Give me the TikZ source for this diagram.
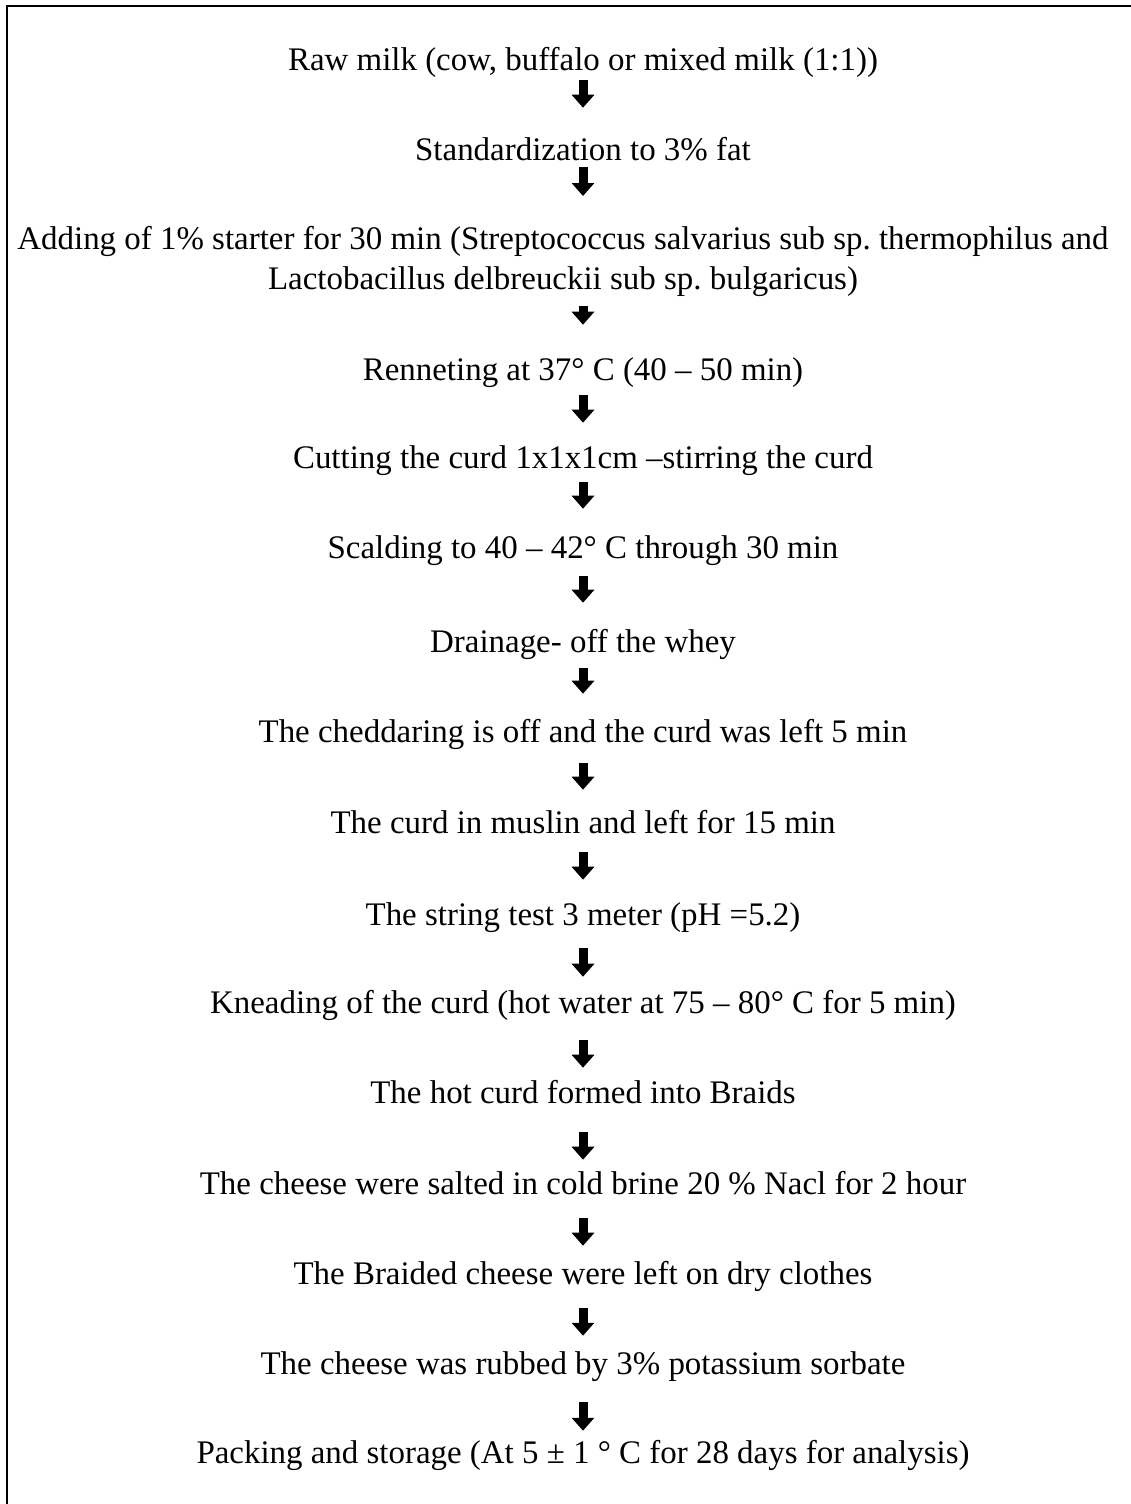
\documentclass[tikz,border=0pt]{standalone}
\usepackage{fontspec}
\setmainfont{Liberation Serif}
\usepackage{xcolor}
\usetikzlibrary{arrows.meta}
\frenchspacing

\tikzset{
  stepnode/.style={anchor=base,inner sep=0pt,text height=16.5pt,text depth=5.25pt,font=\fontsize{24.7}{30}\selectfont},
  flowarrow/.style 2 args={line width=6.75pt,-{Triangle[width=16.5pt,length=9.75pt]},xshift=-2.25pt,shorten <={#1*0.75pt},shorten >={#2*0.75pt}}
}

\begin{document}
\begin{tikzpicture}[x=0.75pt,y=0.75pt,yscale=-1,xscale=1]
\useasboundingbox (0,0) rectangle (1131,1504);
%Frame (only top and left edges in view)
\draw [line width=1.5]  (6.5,6) rectangle (1145,1520) ;
% Text Node
\node [stepnode] (rawmilk) at (583,70) {Raw milk (cow, buffalo or mixed milk (1:1))};
% Text Node
\node [stepnode] (standard) at (583,160) {Standardization to 3\% fat};
% Text Node
\node [anchor=north,inner sep=0pt,align=center,font=\fontsize{24.7}{30}\selectfont] (starter) at (563,226) {Adding of 1\% starter for 30 min (Streptococcus salvarius sub sp. thermophilus and\\Lactobacillus delbreuckii sub sp. bulgaricus)};
% Text Node
\node [stepnode] (renneting) at (583,380) {Renneting at 37° C (40 – 50 min)};
% Text Node
\node [stepnode] (cutting) at (583,468) {Cutting the curd 1x1x1cm –stirring the curd};
% Text Node
\node [stepnode] (scalding) at (583,558) {Scalding to 40 – 42° C through 30 min};
% Text Node
\node [stepnode] (drainage) at (583,652) {Drainage- off the whey};
% Text Node
\node [stepnode] (cheddaring) at (583,742) {The cheddaring is off and the curd was left 5 min};
% Text Node
\node [stepnode] (muslin) at (583,833) {The curd in muslin and left for 15 min};
% Text Node
\node [stepnode] (stringtest) at (583,925) {The string test 3 meter (pH =5.2)};
% Text Node
\node [stepnode] (kneading) at (583,1013) {Kneading of the curd (hot water at 75 – 80° C for 5 min)};
% Text Node
\node [stepnode] (braids) at (583,1103) {The hot curd formed into Braids};
% Text Node
\node [stepnode] (salting) at (583,1194) {The cheese were salted in cold brine 20 \% Nacl for 2 hour};
% Text Node
\node [stepnode] (drying) at (583,1284) {The Braided cheese were left on dry clothes};
% Text Node
\node [stepnode] (sorbate) at (583,1374) {The cheese was rubbed by 3\% potassium sorbate};
% Text Node
\node [stepnode] (packing) at (583,1463) {Packing and storage (At 5 ± 1 ° C for 28 days for analysis)};
%Arrows
\draw [flowarrow={3}{30}]  (rawmilk.south) -- (standard.north) ;
\draw [flowarrow={0}{30}]  (standard.south) -- (starter.north -| standard.south) ;
\draw [flowarrow={9}{33}]  (starter.south -| renneting.north) -- (renneting.north) ;
\draw [flowarrow={8}{23}]  (renneting.south) -- (cutting.north) ;
\draw [flowarrow={7}{27}]  (cutting.south) -- (scalding.north) ;
\draw [flowarrow={11}{27}]  (scalding.south) -- (drainage.north) ;
\draw [flowarrow={9}{26}]  (drainage.south) -- (cheddaring.north) ;
\draw [flowarrow={14}{21}]  (cheddaring.south) -- (muslin.north) ;
\draw [flowarrow={12}{23}]  (muslin.south) -- (stringtest.north) ;
\draw [flowarrow={16}{14}]  (stringtest.south) -- (kneading.north) ;
\draw [flowarrow={20}{13}]  (kneading.south) -- (braids.north) ;
\draw [flowarrow={22}{12}]  (braids.south) -- (salting.north) ;
\draw [flowarrow={17}{16}]  (salting.south) -- (drying.north) ;
\draw [flowarrow={17}{16}]  (drying.south) -- (sorbate.north) ;
\draw [flowarrow={21}{10}]  (sorbate.south) -- (packing.north) ;
\end{tikzpicture}
\end{document}
